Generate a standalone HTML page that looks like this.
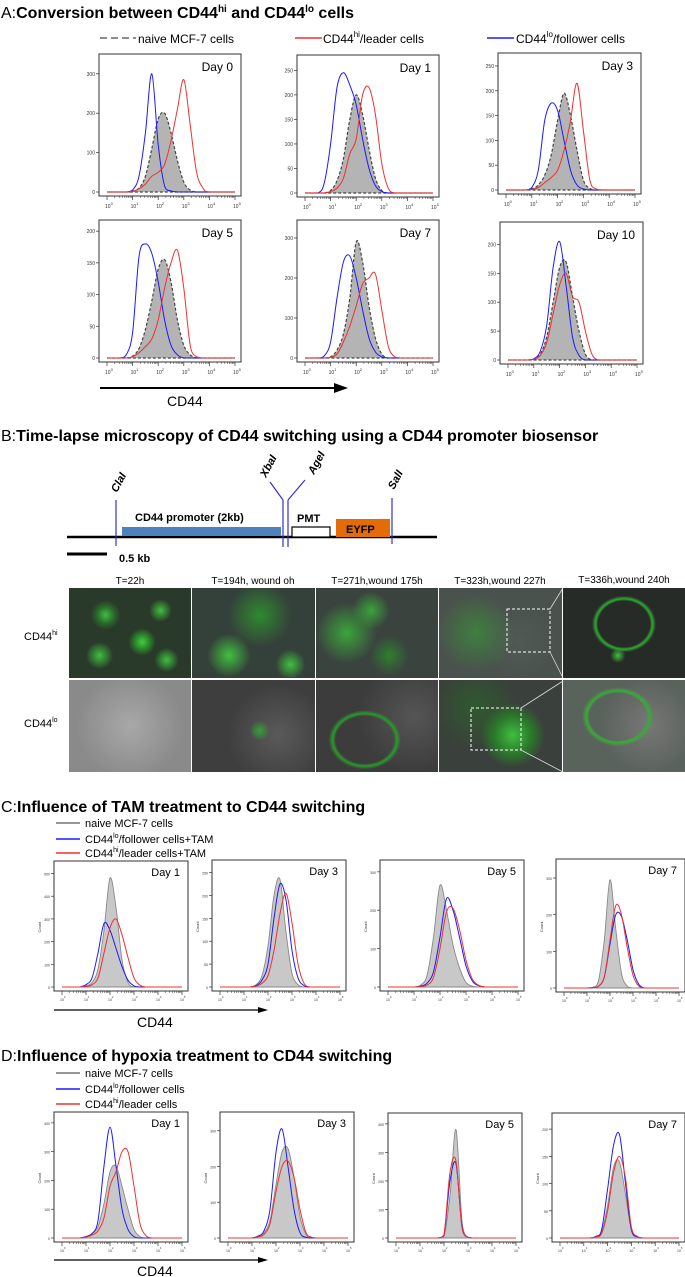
<!DOCTYPE html>
<html><head><meta charset="utf-8"><style>
html,body{margin:0;padding:0;background:#fff;}
body{width:685px;height:1277px;position:relative;overflow:hidden;font-family:"Liberation Sans",sans-serif;}
svg{position:absolute;left:0;top:0;}
.mic{position:absolute;overflow:hidden;}
#mics{position:absolute;left:0;top:0;width:0;height:0;}
</style></head><body>
<div id="mics"></div>
<svg id="fig" width="685" height="1277" viewBox="0 0 685 1277">
<g font-family="Liberation Sans, sans-serif">
<text x="1" y="18" font-size="16"><tspan>A:</tspan><tspan font-weight="bold">Conversion between CD44</tspan><tspan font-weight="bold" font-size="10" dy="-6">hi</tspan><tspan font-weight="bold" dy="6"> and CD44</tspan><tspan font-weight="bold" font-size="10" dy="-6">lo</tspan><tspan font-weight="bold" dy="6"> cells</tspan></text>
<g font-size="12">
<line x1="100" y1="38" x2="136" y2="38" stroke="#666" stroke-width="1.6" stroke-dasharray="7,4"/>
<text x="138" y="43">naive MCF-7 cells</text>
<line x1="295" y1="38" x2="322" y2="38" stroke="#f03030" stroke-width="1.5"/>
<text x="323" y="43">CD44<tspan font-size="8" dy="-6">hi</tspan><tspan dy="6">/leader cells</tspan></text>
<line x1="487" y1="38" x2="514" y2="38" stroke="#1a1aff" stroke-width="1.5"/>
<text x="516" y="43">CD44<tspan font-size="8" dy="-6">lo</tspan><tspan dy="6">/follower cells</tspan></text>
</g>
<g>
<line x1="100" y1="388" x2="336" y2="388" stroke="#000" stroke-width="2"/>
<polygon points="334,383 348,388 334,393" fill="#000"/>
<text x="167" y="406" font-size="14">CD44</text>
</g>
<text x="1" y="441" font-size="16"><tspan>B:</tspan><tspan font-weight="bold">Time-lapse microscopy of CD44 switching using a CD44 promoter biosensor</tspan></text>
<g>
<line x1="67" y1="537" x2="437" y2="537" stroke="#000" stroke-width="2.5"/>
<rect x="122" y="527" width="159" height="9" fill="#4f81bd"/>
<text x="135" y="521" font-size="11" font-weight="bold">CD44 promoter (2kb)</text>
<rect x="292" y="527" width="38" height="10" fill="#fff" stroke="#000" stroke-width="1.2"/>
<text x="297" y="522" font-size="11" font-weight="bold">PMT</text>
<rect x="336" y="519" width="54" height="18" fill="#e36c09"/>
<text x="346" y="533" font-size="11" font-weight="bold">EYFP</text>
<line x1="116" y1="500" x2="116" y2="546" stroke="#3333cc" stroke-width="1.2"/>
<line x1="283" y1="500" x2="283" y2="547" stroke="#3333cc" stroke-width="1.2"/>
<line x1="288" y1="500" x2="288" y2="547" stroke="#3333cc" stroke-width="1.2"/>
<line x1="283" y1="500" x2="270" y2="482" stroke="#3333cc" stroke-width="1.2"/>
<line x1="288" y1="500" x2="305" y2="480" stroke="#3333cc" stroke-width="1.2"/>
<line x1="392" y1="498" x2="392" y2="544" stroke="#3333cc" stroke-width="1.2"/>
<text transform="translate(117,493) rotate(-62)" font-size="11" font-weight="bold" font-style="italic">ClaI</text>
<text transform="translate(266,478) rotate(-62)" font-size="11" font-weight="bold" font-style="italic">XbaI</text>
<text transform="translate(314,475) rotate(-62)" font-size="11" font-weight="bold" font-style="italic">AgeI</text>
<text transform="translate(394,490) rotate(-62)" font-size="11" font-weight="bold" font-style="italic">SalI</text>
<line x1="67" y1="554" x2="107" y2="554" stroke="#000" stroke-width="3"/>
<text x="119" y="562" font-size="11" font-weight="bold">0.5 kb</text>
</g>
<g font-size="10">
<text x="130" y="584" text-anchor="middle">T=22h</text>
<text x="253" y="584" text-anchor="middle">T=194h, wound oh</text>
<text x="377" y="584" text-anchor="middle">T=271h,wound 175h</text>
<text x="500" y="584" text-anchor="middle">T=323h,wound 227h</text>
<text x="624" y="583" text-anchor="middle">T=336h,wound 240h</text>
<text x="24" y="640" font-size="11">CD44<tspan font-size="7" dy="-5">hi</tspan></text>
<text x="24" y="727" font-size="11">CD44<tspan font-size="7" dy="-5">lo</tspan></text>
</g>
<text x="1" y="812" font-size="16"><tspan>C:</tspan><tspan font-weight="bold">Influence of TAM treatment to CD44 switching</tspan></text>
<g font-size="11">
<line x1="56" y1="823" x2="80" y2="823" stroke="#777" stroke-width="1.5"/><text x="85" y="827">naive MCF-7 cells</text>
<line x1="56" y1="839" x2="80" y2="839" stroke="#1a1aff" stroke-width="1.5"/><text x="85" y="843">CD44<tspan font-size="7" dy="-5">lo</tspan><tspan dy="5">/follower cells+TAM</tspan></text>
<line x1="56" y1="853" x2="80" y2="853" stroke="#f03030" stroke-width="1.5"/><text x="85" y="857">CD44<tspan font-size="7" dy="-5">hi</tspan><tspan dy="5">/leader cells+TAM</tspan></text>
</g>
<g>
<line x1="54" y1="1010" x2="258" y2="1010" stroke="#000" stroke-width="1.3"/>
<polygon points="258,1007 268,1010 258,1013" fill="#000"/>
<text x="137" y="1027" font-size="14">CD44</text>
</g>
<text x="1" y="1061" font-size="16"><tspan>D:</tspan><tspan font-weight="bold">Influence of hypoxia treatment to CD44 switching</tspan></text>
<g font-size="11">
<line x1="56" y1="1073" x2="80" y2="1073" stroke="#777" stroke-width="1.5"/><text x="85" y="1077">naive MCF-7 cells</text>
<line x1="56" y1="1089" x2="80" y2="1089" stroke="#1a1aff" stroke-width="1.5"/><text x="85" y="1093">CD44<tspan font-size="7" dy="-5">lo</tspan><tspan dy="5">/follower cells</tspan></text>
<line x1="56" y1="1104" x2="80" y2="1104" stroke="#f03030" stroke-width="1.5"/><text x="85" y="1108">CD44<tspan font-size="7" dy="-5">hi</tspan><tspan dy="5">/leader cells</tspan></text>
</g>
<g>
<line x1="54" y1="1260" x2="258" y2="1260" stroke="#000" stroke-width="1.3"/>
<polygon points="258,1257 268,1260 258,1263" fill="#000"/>
<text x="137" y="1276" font-size="14">CD44</text>
</g>
</g>
<g id="charts"></g>
</svg>
<script>
const sampleLogs = [0.5,0.75,1,1.25,1.5,1.75,2,2.25,2.5,2.75,3,3.25,3.5,3.75,4];
const dayLabelsA = ["Day 0","Day 1","Day 3","Day 5","Day 7","Day 10"];
const yMaxA = [330,265,260,205,325,225];
const yTicksA = [[0,100,200,300],[0,50,100,150,200,250],[0,50,100,150,200,250],[0,50,100,150,200],[0,100,200,300],[0,50,100,150,200]];
const naiveA = [
 [0,0,2,10,40,110,185,200,150,80,25,5,0,0,0],
 [0,0,5,25,70,150,200,160,90,30,5,0,0,0,0],
 [0,0,2,10,30,70,140,195,150,80,20,3,0,0,0],
 [0,0,3,15,45,90,140,155,120,60,20,5,0,0,0],
 [0,0,3,20,60,150,290,240,130,50,10,0,0,0,0],
 [0,0,1,10,40,100,160,170,110,50,10,0,0,0,0]];
const leaderA = [
 [0,0,2,8,20,40,50,70,130,210,285,170,50,10,0],
 [0,0,3,10,30,80,110,200,215,160,60,10,0,0,0],
 [0,0,1,5,15,25,40,80,140,215,120,20,2,0,0],
 [0,0,2,8,18,30,60,110,150,170,110,20,2,0,0],
 [0,0,2,10,40,80,130,185,200,210,120,30,3,0,0],
 [0,0,1,8,30,80,130,150,110,100,50,10,0,0,0]];
const followerA = [
 [0,0,5,40,150,300,120,15,3,0,0,0,0,0,0],
 [0,20,100,215,245,220,180,110,50,15,3,0,0,0,0],
 [0,0,5,40,140,175,160,100,40,10,2,0,0,0,0],
 [0,5,40,160,180,165,120,60,20,5,0,0,0,0,0],
 [0,5,40,150,240,255,200,120,50,15,3,0,0,0,0],
 [0,0,2,15,60,160,205,130,40,8,0,0,0,0,0]];
const dayLabelsC = ["Day 1","Day 3","Day 5","Day 7"];
const yMaxC = [520,260,310,330];
const yTicksC = [[0,100,200,300,400,500],[0,50,100,150,200,250],[0,100,200,300],[0,100,200,300]];
const naiveC = [
 [0,0,5,20,80,250,480,350,120,20,0,0,0,0,0],
 [0,0,0,0,5,25,90,200,235,120,30,5,0,0,0],
 [0,0,0,5,30,130,265,200,110,50,12,2,0,0,0],
 [0,0,0,2,20,130,295,160,40,5,0,0,0,0,0]];
const followerC = [
 [0,0,10,40,150,280,250,170,90,30,5,0,0,0,0],
 [0,0,0,0,3,15,50,150,225,190,80,20,3,0,0],
 [0,0,0,2,10,40,130,230,200,130,55,15,3,0,0],
 [0,0,0,1,5,30,120,200,195,130,50,10,0,0,0]];
const leaderC = [
 [0,0,2,10,40,150,260,300,230,130,40,8,0,0,0],
 [0,0,0,0,2,8,25,80,160,205,140,50,8,0,0],
 [0,0,0,1,5,25,100,195,205,150,70,20,4,0,0],
 [0,0,0,1,5,30,130,225,200,110,35,5,0,0,0]];
const dayLabelsD = ["Day 1","Day 3","Day 5","Day 7"];
const yMaxD = [410,330,410,215];
const yTicksD = [[0,100,200,300,400],[0,100,200,300],[0,100,200,300,400],[0,50,100,150,200]];
const naiveD = [
 [0,0,5,15,40,120,230,250,180,100,30,5,0,0,0],
 [0,0,0,5,15,50,150,240,250,170,60,10,0,0,0],
 [0,0,0,0,0,0,5,150,380,60,2,0,0,0,0],
 [0,0,0,0,2,10,60,130,140,80,15,2,0,0,0]];
const followerD = [
 [0,0,5,15,60,250,385,250,100,30,5,0,0,0,0],
 [0,0,0,5,20,80,240,305,200,80,15,2,0,0,0],
 [0,0,0,0,0,0,10,200,260,40,2,0,0,0,0],
 [0,0,0,0,3,15,90,170,190,100,15,2,0,0,0]];
const leaderD = [
 [0,0,3,10,25,70,180,230,300,300,180,50,8,0,0],
 [0,0,0,3,10,40,130,200,215,170,80,15,2,0,0],
 [0,0,0,0,0,0,12,230,270,35,2,0,0,0,0],
 [0,0,0,0,2,8,50,120,150,110,20,3,0,0,0]];

const NS = "http://www.w3.org/2000/svg";
const charts = document.getElementById('charts');
function mk(tag, attrs, parent){const e=document.createElementNS(NS,tag);for(const k in attrs)e.setAttribute(k,attrs[k]);parent.appendChild(e);return e;}
function smoothPath(pts, yb){
  let d = "M"+pts[0][0].toFixed(1)+","+pts[0][1].toFixed(1);
  for(let i=0;i<pts.length-1;i++){
    const p0=pts[Math.max(0,i-1)],p1=pts[i],p2=pts[i+1],p3=pts[Math.min(pts.length-1,i+2)];
    const c1x=p1[0]+(p2[0]-p0[0])/6,c1y=Math.min(yb,p1[1]+(p2[1]-p0[1])/6),c2x=p2[0]-(p3[0]-p1[0])/6,c2y=Math.min(yb,p2[1]-(p3[1]-p1[1])/6);
    d+=" C"+c1x.toFixed(1)+","+c1y.toFixed(1)+" "+c2x.toFixed(1)+","+c2y.toFixed(1)+" "+p2[0].toFixed(1)+","+p2[1].toFixed(1);
  }
  return d;
}
function drawPanel(fr, label, yMax, ticks, naive, red, blue, style, name){
  const g = mk('g',{},charts);
  
  
  const x0=fr.x+8, x1=fr.x+fr.w-6, yb=fr.y+fr.h-4, yt=fr.y+8;
  const xs = v => x0 + (v/5)*(x1-x0);
  const ys = v => yb - (v/yMax)*(yb-yt);
  const frame = mk('rect',{x:fr.x,y:fr.y,width:fr.w,height:fr.h,fill:'#fff',stroke:'#333','stroke-width':1},g);
  
  
  const fs = style==='A'?5:3.5;
  ticks.forEach(t=>{
    const y=ys(t);
    mk('line',{x1:fr.x-3,y1:y,x2:fr.x,y2:y,stroke:'#333','stroke-width':0.7},g);
    const tl = mk('text',{x:fr.x-4,y:y+2,'font-size':fs,'text-anchor':'end',fill:'#333'},g);
    tl.textContent = t;
    
    
  });
  for(let d=0; d<=5; d++){
    const x=xs(d);
    mk('line',{x1:x,y1:fr.y+fr.h,x2:x,y2:fr.y+fr.h+4,stroke:'#333','stroke-width':0.7},g);
    for(let m=2;m<10&&d<5;m++){const xm=xs(d+Math.log10(m));mk('line',{x1:xm,y1:fr.y+fr.h,x2:xm,y2:fr.y+fr.h+2,stroke:'#333','stroke-width':0.5},g);}
    const tl = mk('text',{x:x-2,y:fr.y+fr.h+(style==='A'?12:10),'font-size':fs,fill:'#333'},g);
    tl.textContent='10';
    const sp = mk('tspan',{dy:-3,'font-size':fs*0.8},tl); sp.textContent=d;
    
    
  }
  if(style!=='A'){
    const cl = mk('text',{transform:`translate(${fr.x-13},${fr.y+fr.h*0.55}) rotate(-90)`,'font-size':4,fill:'#333'},g);
    cl.textContent='Count';
    
    
  }
  const build = arr => {const p=[[x0,yb]]; sampleLogs.forEach((l,i)=>p.push([xs(l),ys(arr[i])])); p.push([x1,yb]); return p;};
  const gd = smoothPath(build(naive), yb);
  const fill = mk('path',{d:gd+" Z",fill:style==='A'?'#b4b4b4':'#c8c8c8',stroke:style==='A'?'#444':'#888','stroke-width':style==='A'?1.2:0.9,'stroke-dasharray':style==='A'?'3,2':'none'},g);
  
  
  const bl = mk('path',{d:smoothPath(build(blue), yb),fill:'none',stroke:'#1a1aff','stroke-width':1},g);
  
  
  const rd = mk('path',{d:smoothPath(build(red), yb),fill:'none',stroke:'#f03030','stroke-width':1},g);
  
  
  const dl = mk('text',{x:fr.x+fr.w-8,y:fr.y+(style==='A'?17:15),'font-size':style==='A'?12:11,'text-anchor':'end'},g);
  dl.textContent = label;
  
  
}
const framesA=[{x:99,y:54,w:142,h:142},{x:297,y:55,w:142,h:142},{x:498,y:53,w:143,h:141},{x:99,y:220,w:142,h:142},{x:297,y:220,w:142,h:142},{x:500,y:222,w:143,h:142}];
framesA.forEach((f,i)=>drawPanel(f,dayLabelsA[i],yMaxA[i],yTicksA[i],naiveA[i],leaderA[i],followerA[i],'A','histogram-a-'+i));
const framesC=[{x:54,y:861,w:134,h:130},{x:212,y:860,w:134,h:131},{x:380,y:860,w:144,h:131},{x:556,y:859,w:129,h:133}];
framesC.forEach((f,i)=>drawPanel(f,dayLabelsC[i],yMaxC[i],yTicksC[i],naiveC[i],leaderC[i],followerC[i],'C','histogram-c-'+i));
const framesD=[{x:54,y:1112,w:134,h:130},{x:220,y:1112,w:134,h:130},{x:388,y:1113,w:134,h:129},{x:552,y:1113,w:133,h:129}];
framesD.forEach((f,i)=>drawPanel(f,dayLabelsD[i],yMaxD[i],yTicksD[i],naiveD[i],leaderD[i],followerD[i],'D','histogram-d-'+i));

const mics=document.getElementById('mics');
const colX=[69,192,316,439,563], colW=[122,123,122,123,122];
const rowY=[588,680], rowH=[90,92];
const bgs=[
 ['radial-gradient(circle at 30% 30%,#3fbf3f 0,#2a6a2a 8%,transparent 14%),radial-gradient(circle at 60% 60%,#3fcf3f 0,#2a7a2a 9%,transparent 15%),radial-gradient(circle at 25% 75%,#3fbf3f 0,transparent 12%),radial-gradient(circle at 75% 25%,#3fbf3f 0,transparent 10%),radial-gradient(circle at 80% 80%,#3fbf3f 0,transparent 10%),#2a3a2a',
  'radial-gradient(circle at 30% 75%,#40c040 0,transparent 20%),radial-gradient(circle at 55% 30%,#2f8a2f 0,transparent 35%),radial-gradient(circle at 80% 85%,#40c040 0,transparent 12%),#34403a',
  'radial-gradient(circle at 25% 50%,#3aa53a 0,transparent 30%),radial-gradient(circle at 45% 25%,#3aa53a 0,transparent 20%),radial-gradient(circle at 60% 75%,#2f7f2f 0,transparent 20%),#3a433e',
  'radial-gradient(circle at 30% 50%,#3f7f3f 0,transparent 40%),radial-gradient(circle at 65% 60%,#505a55 0,transparent 40%),#4a524d',
  'radial-gradient(ellipse at 50% 40%,transparent 30%,#2faa2f 33%,transparent 37%),radial-gradient(circle at 45% 75%,#40c040 0,transparent 8%),#262b27'],
 ['radial-gradient(circle at 50% 50%,#a8a8a8 0,#8a8a8a 70%),#999',
  'radial-gradient(circle at 55% 55%,#36a036 0,transparent 12%),radial-gradient(circle at 70% 60%,#5a5a5a 0,transparent 50%),#3e3e3e',
  'radial-gradient(ellipse at 40% 65%,transparent 28%,#2a9a2a 31%,transparent 35%),radial-gradient(circle at 80% 40%,#555 0,transparent 50%),#3c3c3c',
  'radial-gradient(circle at 60% 60%,#3fbf3f 0,#2a7a2a 20%,transparent 35%),radial-gradient(circle at 30% 30%,#2e5a2e 0,transparent 40%),#3a403b',
  'radial-gradient(ellipse at 45% 40%,transparent 30%,#3aaa3a 33%,transparent 38%),radial-gradient(circle at 70% 50%,#777 0,transparent 50%),#5a625c']];
for(let r=0;r<2;r++)for(let c=0;c<5;c++){
  const d=document.createElement('div');
  d.className='mic';
  d.style.left=colX[c]+'px';d.style.top=rowY[r]+'px';d.style.width=colW[c]+'px';d.style.height=rowH[r]+'px';
  d.style.background=bgs[r][c];
  
  
  mics.appendChild(d);
}
const svg=document.getElementById('fig');
mk('rect',{x:507,y:609,width:43,height:43,fill:'none',stroke:'#fff','stroke-dasharray':'3,2','stroke-width':1},svg);
mk('line',{x1:550,y1:609,x2:563,y2:588,stroke:'#ddd','stroke-width':0.8},svg);
mk('line',{x1:550,y1:652,x2:563,y2:678,stroke:'#ddd','stroke-width':0.8},svg);
mk('rect',{x:471,y:708,width:50,height:42,fill:'none',stroke:'#fff','stroke-dasharray':'3,2','stroke-width':1},svg);
mk('line',{x1:521,y1:708,x2:563,y2:681,stroke:'#ddd','stroke-width':0.8},svg);
mk('line',{x1:521,y1:750,x2:563,y2:772,stroke:'#ddd','stroke-width':0.8},svg);
</script>
</body></html>
